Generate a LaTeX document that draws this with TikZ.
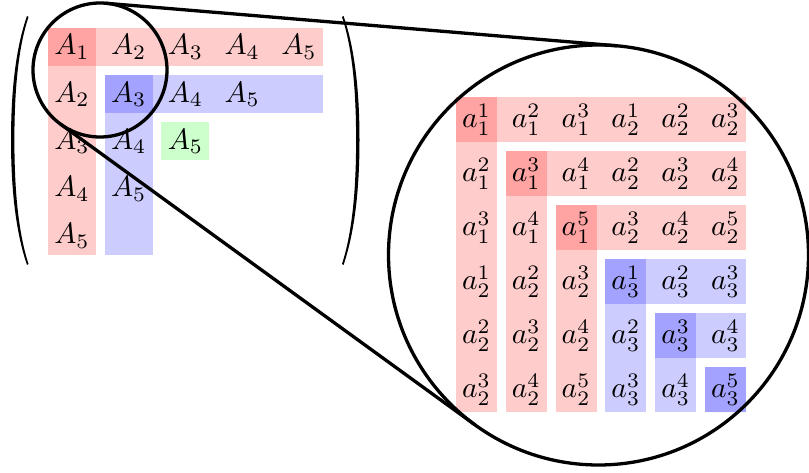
\documentclass[tikz,border=0pt]{standalone}
\usepackage{graphicx}
\usetikzlibrary{calc}
\definecolor{lred}{RGB}{255,204,204}
\definecolor{dred}{RGB}{255,163,163}
\definecolor{lblue}{RGB}{204,204,255}
\definecolor{dblue}{RGB}{163,163,255}
\definecolor{lgreen}{RGB}{204,255,204}
\newcommand{\bigent}[1]{\scalebox{2.95}{$#1$}}
\begin{document}
\begin{tikzpicture}[x=1pt,y=-1pt,
  ent/.style={inner sep=0pt},
  lens/.style={circle, draw, line width=3.3pt, inner sep=0pt, outer sep=0pt},
  tan/.style={line width=3.3pt, line cap=round}]
\useasboundingbox (0,0) rectangle (809,473);
% ---------- left matrix fills
\fill[lred] (48,28) rectangle (323,66);
\fill[lred] (48,66) rectangle (96,255);
\fill[dred] (48,28) rectangle (96,66);
\fill[lblue] (105,75) rectangle (323,113);
\fill[lblue] (105,113) rectangle (153,255);
\fill[dblue] (105,75) rectangle (153,113);
\fill[lgreen] (161,122) rectangle (209,160);
% ---------- left matrix entries
\foreach \i in {1,...,5}{
  \pgfmathtruncatemacro{\jmax}{6-\i}
  \foreach \j in {1,...,\jmax}{
    \pgfmathtruncatemacro{\k}{\i+\j-1}
    \node[ent] (L-\i-\j) at ({72+56.75*(\j-1)},{47+47.25*(\i-1)}) {\bigent{A_{\k}}};
  }
}
% ---------- parentheses
\fill (27,16) .. controls (15,50) and (11,95) .. (11,140) .. controls (11,185) and (15,230) .. (27,265)
  -- (28.5,264) .. controls (17.5,230) and (14.4,185) .. (14.4,140) .. controls (14.4,95) and (17.5,50) .. (28.5,17) -- cycle;
\begin{scope}[shift={(370.5,0)},xscale=-1]
\fill (27,16) .. controls (15,50) and (11,95) .. (11,140) .. controls (11,185) and (15,230) .. (27,265)
  -- (28.5,264) .. controls (17.5,230) and (14.4,185) .. (14.4,140) .. controls (14.4,95) and (17.5,50) .. (28.5,17) -- cycle;
\end{scope}
% ---------- right matrix fills
\foreach \k in {1,2,3}{
  \pgfmathsetmacro{\xl}{456+49.8*(\k-1)}
  \pgfmathsetmacro{\yt}{97+54*(\k-1)}
  \fill[lred] (\xl,\yt) rectangle (746,\yt+45);
  \fill[lred] (\xl,\yt+45) rectangle (\xl+41,412);
  \fill[dred] (\xl,\yt) rectangle (\xl+41,\yt+45);
}
\foreach \k in {4,5,6}{
  \pgfmathsetmacro{\xl}{456+49.8*(\k-1)}
  \pgfmathsetmacro{\yt}{97+54*(\k-1)}
  \fill[lblue] (\xl,\yt) rectangle (746,\yt+45);
  \fill[lblue] (\xl,\yt+45) rectangle (\xl+41,412);
  \fill[dblue] (\xl,\yt) rectangle (\xl+41,\yt+45);
}
% ---------- right matrix entries
\foreach \i in {1,...,6}{
  \foreach \j in {1,...,6}{
    \pgfmathtruncatemacro{\bi}{\i>3 ? 2 : 1}
    \pgfmathtruncatemacro{\bj}{\j>3 ? 2 : 1}
    \pgfmathtruncatemacro{\lo}{\bi+\bj-1}
    \pgfmathtruncatemacro{\hi}{(\i-3*(\bi-1))+(\j-3*(\bj-1))-1}
    \node[ent] (R-\i-\j) at ({476.5+49.8*(\j-1)},{119.5+54*(\i-1)}) {\bigent{a_{\lo}^{\hi}}};
  }
}
% ---------- magnifier
\node[lens, minimum size=134pt] (spot) at (100,70) {};
\node[lens, minimum size=420pt] (zoom) at (598.5,255) {};
\draw[tan] (spot.85.24) -- (zoom.85.24);
\draw[tan] (spot.234.04) -- (zoom.234.04);
\end{tikzpicture}
\end{document}
